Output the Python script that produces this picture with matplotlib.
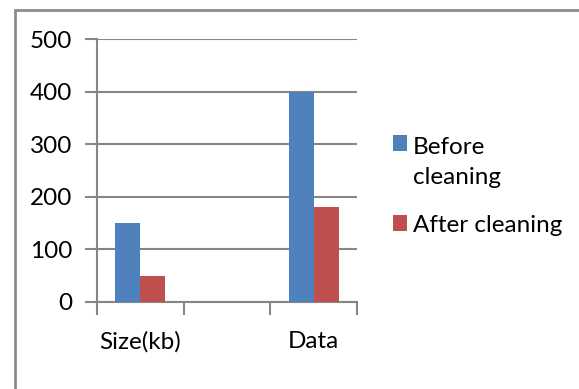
import matplotlib.pyplot as plt
from matplotlib.patches import Rectangle
import numpy as np

categories = ['Size(kb)', '', 'Data']
before = [150, 0, 400]
after = [50, 0, 180]
series_labels = ['Before\ncleaning', 'After cleaning']
colors = ['#4F81BD', '#C0504D']

plt.rcParams['font.family'] = ['Lato', 'DejaVu Sans']
fs = 17.5
grid_col = '#868686'

fig = plt.figure(figsize=(5.79, 3.89), dpi=100)
ax = fig.add_axes([0.1675, 0.2237, 0.4491, 0.6753])

x = np.arange(1, len(categories) + 1)
w = 0.29
ax.bar(x - w / 2, before, w, color=colors[0], label=series_labels[0], zorder=3)
ax.bar(x + w / 2, after, w, color=colors[1], label=series_labels[1], zorder=3)

ax.set_ylim(0, 500)
ax.set_yticks(range(0, 501, 100))
ax.set_xlim(0.5, 3.5)
ax.set_xticks(np.arange(0.5, 3.6, 1))
ax.set_xticklabels([])
ax.set_xticks(x, minor=True)
ax.set_xticklabels(categories, minor=True)
ax.tick_params(axis='x', which='minor', length=0, pad=21, labelsize=fs)
ax.tick_params(axis='x', which='major', length=9, width=1.5, color=grid_col, direction='out')
ax.tick_params(axis='y', length=9, width=1.5, color=grid_col, pad=9, labelsize=fs)

ax.grid(axis='y', color=grid_col, linewidth=1.5, zorder=0)
for s in ['top', 'right']:
    ax.spines[s].set_visible(False)
for s in ['left', 'bottom']:
    ax.spines[s].set_color(grid_col)
    ax.spines[s].set_linewidth(1.5)

leg = fig.legend(loc='upper left', bbox_to_anchor=(0.657, 0.678), frameon=False,
                 fontsize=fs, handlelength=0.6, handleheight=0.6,
                 handletextpad=0.25, labelspacing=1.1, borderpad=0)
for t in leg.get_texts():
    t.set_linespacing(1.5)
# keep the first square next to the first line of its wrapped label
h0 = leg.legend_handles[0]
h0.set_y(h0.get_y() + 0.8 * fs)

# outer chart border
fig.patches.append(Rectangle((15 / 579, -0.1), 1.2, 1 - 10 / 389 + 0.1,
                             transform=fig.transFigure, fill=False,
                             edgecolor='#8c8c8c', linewidth=2))

fig.savefig('out.png', dpi=100)
